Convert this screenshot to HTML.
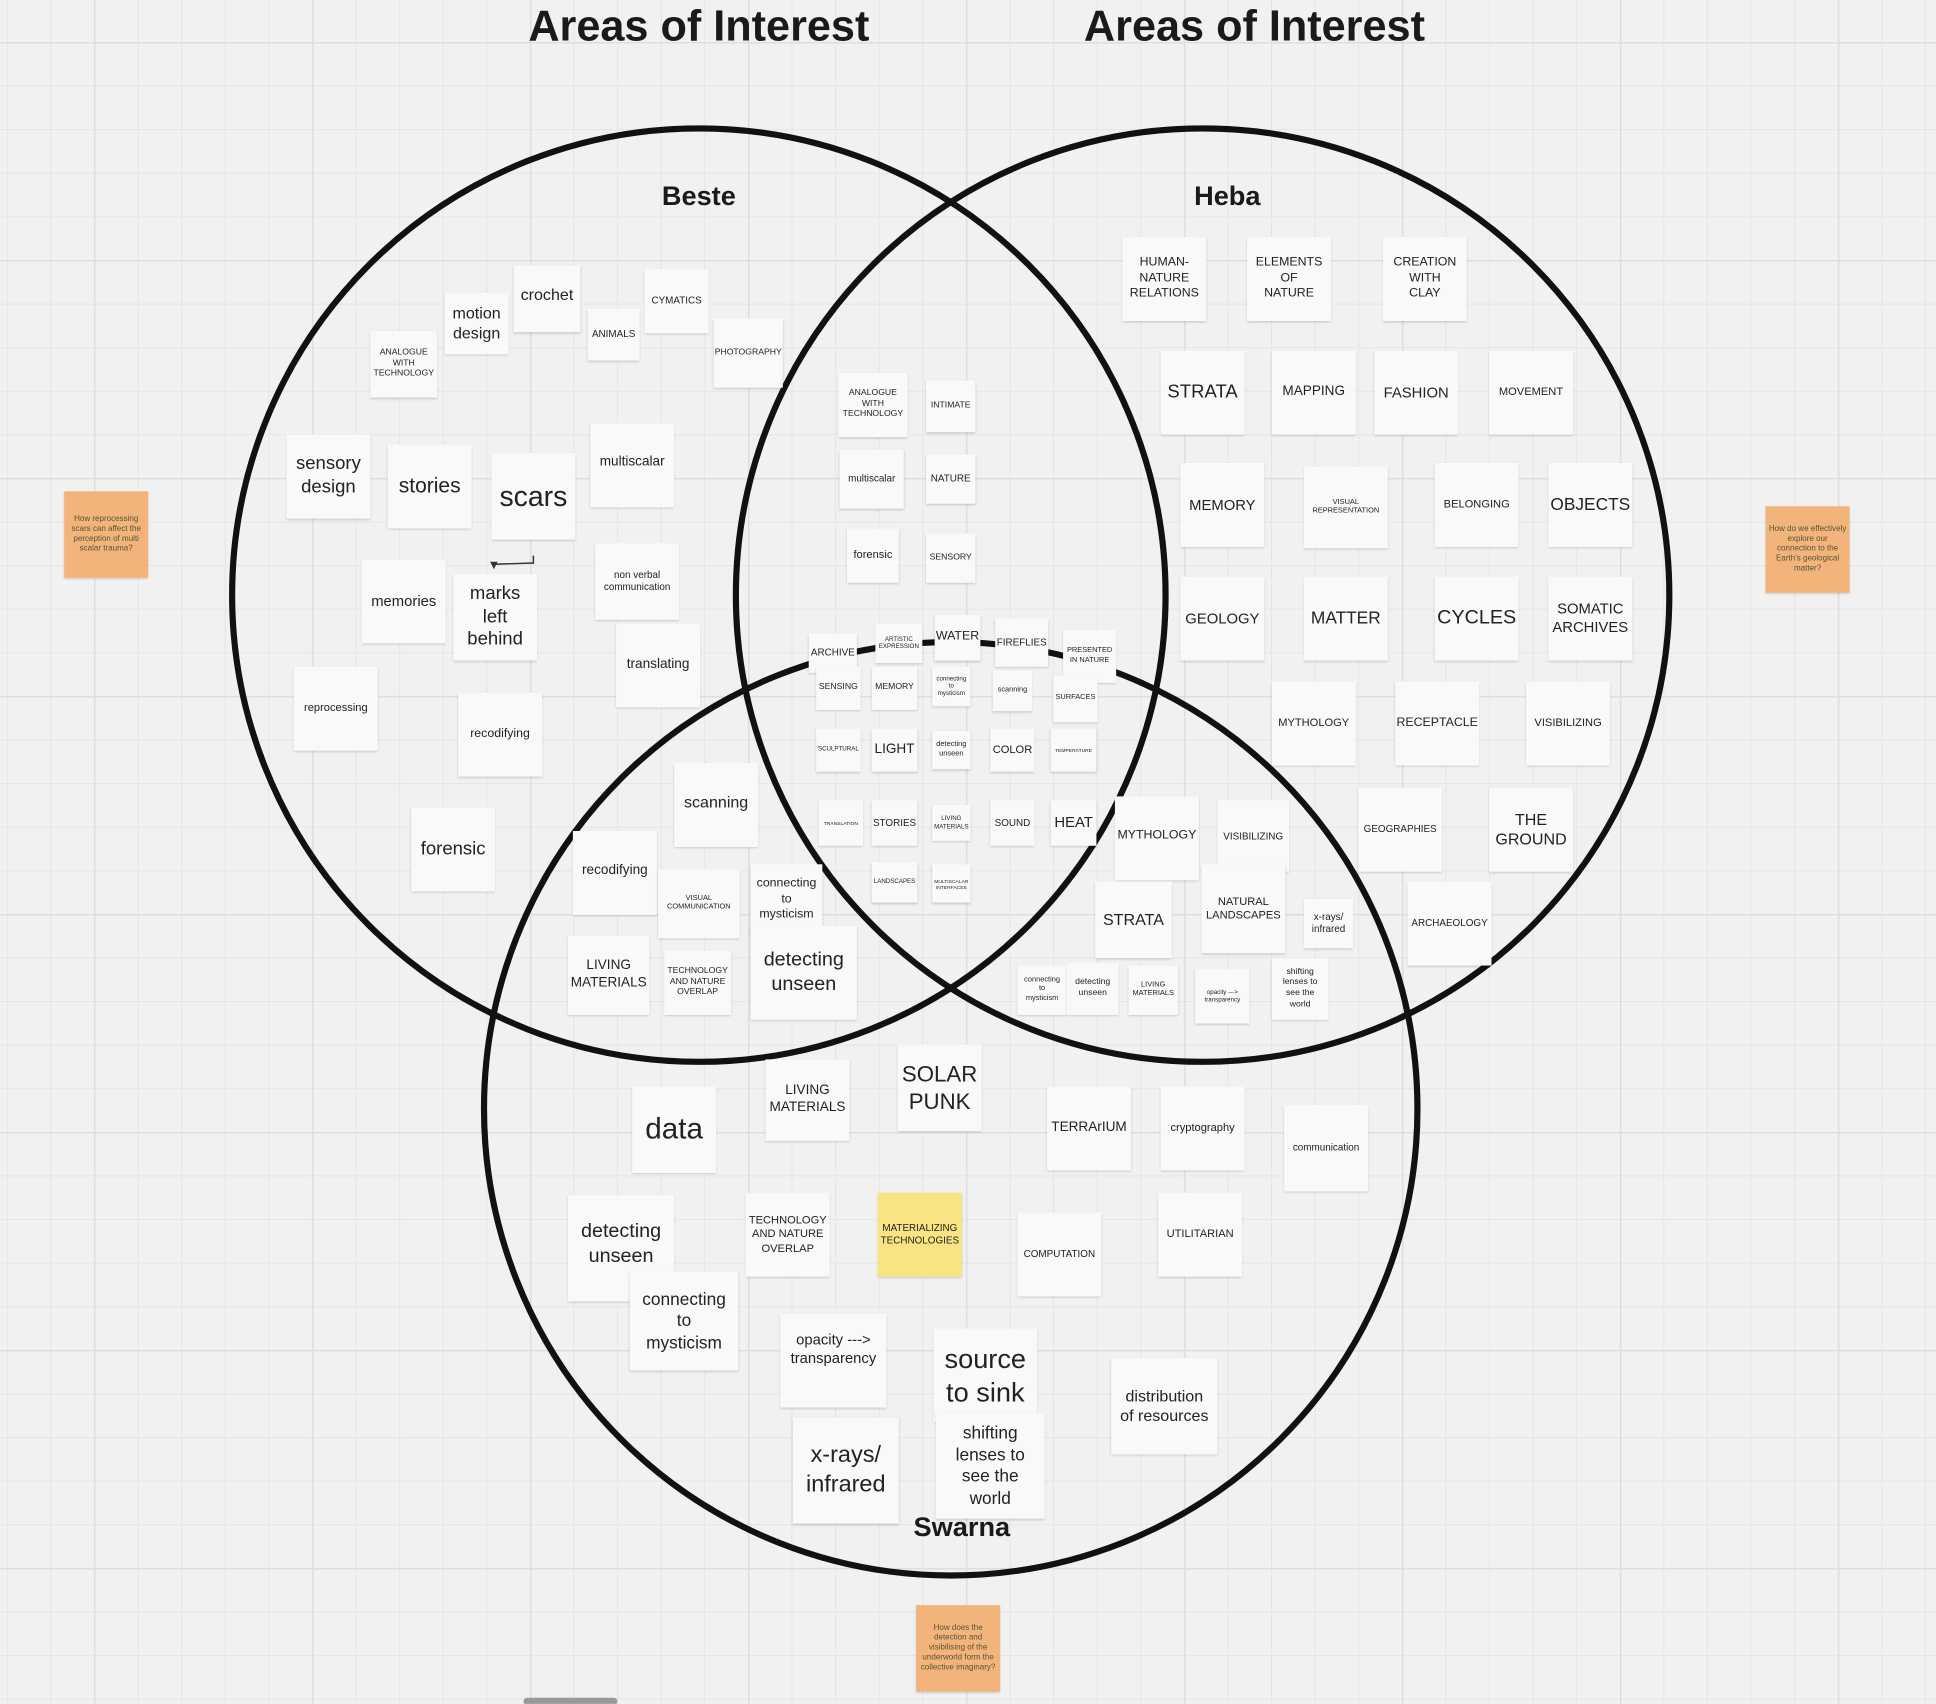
<!DOCTYPE html>
<html><head><meta charset="utf-8"><style>
html,body{margin:0;padding:0;width:1936px;height:1704px;overflow:hidden;background:#f1f1f1;}
#grid{position:absolute;left:0;top:0;width:1936px;height:1704px;
background-image:
linear-gradient(to right,#dedede 1.5px,transparent 1.5px),
linear-gradient(to bottom,#dedede 1.5px,transparent 1.5px),
linear-gradient(to right,#e5e5e5 1px,transparent 1px),
linear-gradient(to bottom,#e5e5e5 1px,transparent 1px);
background-size:218px 218px,218px 218px,43.6px 43.6px,43.6px 43.6px;
background-position:94px 42px,94px 42px,6.8px -1.6px,6.8px -1.6px;}
#c{position:absolute;left:0;top:0;width:1568px;height:1380px;transform:scale(1.2347);transform-origin:0 0;font-family:"Liberation Sans",sans-serif;}
.n{position:absolute;background:#f9f9f9;box-shadow:0 1px 2px rgba(0,0,0,.18);display:flex;align-items:center;justify-content:center;text-align:center;color:#222;line-height:1.25;box-sizing:border-box;padding:2px;}
.o{background:#f3b47c;color:#553;}
.y{background:#f8e483;}
.t{position:absolute;font-weight:bold;color:#1a1a1a;transform:translateX(-50%);white-space:nowrap;}
</style></head><body>
<div id="grid"></div>
<div id="c">
<div class="t" style="left:566px;top:2px;font-size:35px">Areas of Interest</div>
<div class="t" style="left:1016px;top:2px;font-size:35px">Areas of Interest</div>
<svg width="1568" height="1380" style="position:absolute;left:0;top:0">
<circle cx="566" cy="482" r="378" fill="none" stroke="#111" stroke-width="5"/>
<circle cx="974" cy="482" r="378" fill="none" stroke="#111" stroke-width="5"/>
<circle cx="770" cy="898" r="378" fill="none" stroke="#111" stroke-width="5"/>
<path d="M432 450 L432 456 L400 457" fill="none" stroke="#333" stroke-width="1.2"/>
<path d="M397 455 L403 455 L400 461 Z" fill="#333"/>
<rect x="424" y="1375" width="76" height="6" rx="3" fill="#999"/>
</svg>
<div class="t" style="left:566px;top:146px;font-size:22px">Beste</div>
<div class="t" style="left:994px;top:146px;font-size:22px">Heba</div>
<div class="t" style="left:779px;top:1224px;font-size:22px">Swarna</div>

<!-- Beste -->
<div class="n" style="left:360px;top:237px;width:52px;height:50px;font-size:13px">motion design</div>
<div class="n" style="left:416px;top:215px;width:54px;height:54px;font-size:13px;align-items:flex-start;padding-top:16px">crochet</div>
<div class="n" style="left:476px;top:250px;width:42px;height:42px;font-size:8px">ANIMALS</div>
<div class="n" style="left:522px;top:218px;width:52px;height:52px;font-size:8px">CYMATICS</div>
<div class="n" style="left:578px;top:258px;width:56px;height:56px;font-size:7px">PHOTOGRAPHY</div>
<div class="n" style="left:300px;top:268px;width:54px;height:54px;font-size:7px">ANALOGUE WITH TECHNOLOGY</div>
<div class="n" style="left:232px;top:352px;width:68px;height:68px;font-size:15px">sensory design</div>
<div class="n" style="left:314px;top:360px;width:68px;height:68px;font-size:17px">stories</div>
<div class="n" style="left:398px;top:367px;width:68px;height:70px;font-size:23px">scars</div>
<div class="n" style="left:478px;top:343px;width:68px;height:68px;font-size:11px;align-items:flex-start;padding-top:25px">multiscalar</div>
<div class="n" style="left:293px;top:453px;width:68px;height:68px;font-size:12px">memories</div>
<div class="n" style="left:367px;top:465px;width:68px;height:70px;font-size:15px">marks left behind</div>
<div class="n" style="left:482px;top:440px;width:68px;height:62px;font-size:8px">non verbal communication</div>
<div class="n" style="left:499px;top:505px;width:68px;height:68px;font-size:11px">translating</div>
<div class="n" style="left:238px;top:540px;width:68px;height:68px;font-size:9px">reprocessing</div>
<div class="n" style="left:371px;top:561px;width:68px;height:68px;font-size:10px">recodifying</div>
<div class="n" style="left:333px;top:654px;width:68px;height:68px;font-size:15px">forensic</div>

<!-- Beste ∩ Heba -->
<div class="n" style="left:679px;top:302px;width:56px;height:52px;font-size:7px">ANALOGUE WITH TECHNOLOGY</div>
<div class="n" style="left:750px;top:308px;width:40px;height:42px;font-size:7px">INTIMATE</div>
<div class="n" style="left:680px;top:364px;width:52px;height:48px;font-size:8px">multiscalar</div>
<div class="n" style="left:750px;top:368px;width:40px;height:40px;font-size:8px">NATURE</div>
<div class="n" style="left:686px;top:428px;width:42px;height:44px;font-size:9px">forensic</div>
<div class="n" style="left:750px;top:432px;width:40px;height:40px;font-size:7px">SENSORY</div>

<!-- Center -->
<div class="n" style="left:655px;top:513px;width:39px;height:32px;font-size:8px">ARCHIVE</div>
<div class="n" style="left:709px;top:505px;width:38px;height:32px;font-size:5px">ARTISTIC EXPRESSION</div>
<div class="n" style="left:757px;top:498px;width:37px;height:37px;font-size:10px">WATER</div>
<div class="n" style="left:806px;top:501px;width:43px;height:39px;font-size:8px">FIREFLIES</div>
<div class="n" style="left:861px;top:510px;width:43px;height:43px;font-size:6px">PRESENTED IN NATURE</div>
<div class="n" style="left:661px;top:540px;width:36px;height:35px;font-size:7px">SENSING</div>
<div class="n" style="left:706px;top:540px;width:37px;height:35px;font-size:7px">MEMORY</div>
<div class="n" style="left:755px;top:540px;width:31px;height:32px;font-size:5px">connecting to mysticism</div>
<div class="n" style="left:804px;top:543px;width:32px;height:33px;font-size:6px">scanning</div>
<div class="n" style="left:853px;top:547px;width:36px;height:38px;font-size:6px">SURFACES</div>
<div class="n" style="left:661px;top:590px;width:36px;height:35px;font-size:5px">SCULPTURAL</div>
<div class="n" style="left:706px;top:590px;width:37px;height:35px;font-size:11px">LIGHT</div>
<div class="n" style="left:755px;top:592px;width:31px;height:31px;font-size:6px">detecting unseen</div>
<div class="n" style="left:802px;top:590px;width:36px;height:35px;font-size:9px">COLOR</div>
<div class="n" style="left:851px;top:590px;width:37px;height:35px;font-size:4px">TEMPERATURE</div>
<div class="n" style="left:663px;top:648px;width:36px;height:37px;font-size:4px">TRANSLATION</div>
<div class="n" style="left:706px;top:648px;width:37px;height:37px;font-size:8px">STORIES</div>
<div class="n" style="left:755px;top:652px;width:31px;height:29px;font-size:5px">LIVING MATERIALS</div>
<div class="n" style="left:802px;top:648px;width:36px;height:37px;font-size:8px">SOUND</div>
<div class="n" style="left:851px;top:648px;width:37px;height:37px;font-size:12px">HEAT</div>
<div class="n" style="left:706px;top:698px;width:37px;height:33px;font-size:5px">LANDSCAPES</div>
<div class="n" style="left:755px;top:700px;width:31px;height:31px;font-size:4px">MULTISCALAR INTERFACES</div>

<!-- Heba -->
<div class="n" style="left:909px;top:192px;width:68px;height:68px;font-size:10px">HUMAN-NATURE RELATIONS</div>
<div class="n" style="left:1010px;top:192px;width:68px;height:68px;font-size:10px;padding:0 14px">ELEMENTS OF NATURE</div>
<div class="n" style="left:1120px;top:192px;width:68px;height:68px;font-size:10px;padding:0 14px">CREATION WITH CLAY</div>
<div class="n" style="left:940px;top:284px;width:68px;height:68px;font-size:15px">STRATA</div>
<div class="n" style="left:1030px;top:284px;width:68px;height:68px;font-size:11px">MAPPING</div>
<div class="n" style="left:1113px;top:284px;width:68px;height:68px;font-size:12px">FASHION</div>
<div class="n" style="left:1206px;top:284px;width:68px;height:68px;font-size:9px">MOVEMENT</div>
<div class="n" style="left:956px;top:375px;width:68px;height:68px;font-size:12px">MEMORY</div>
<div class="n" style="left:1056px;top:378px;width:68px;height:66px;font-size:6px">VISUAL REPRESENTATION</div>
<div class="n" style="left:1162px;top:375px;width:68px;height:68px;font-size:9px">BELONGING</div>
<div class="n" style="left:1254px;top:375px;width:68px;height:68px;font-size:14px">OBJECTS</div>
<div class="n" style="left:956px;top:467px;width:68px;height:68px;font-size:12px">GEOLOGY</div>
<div class="n" style="left:1056px;top:467px;width:68px;height:68px;font-size:14px">MATTER</div>
<div class="n" style="left:1162px;top:467px;width:68px;height:68px;font-size:16px">CYCLES</div>
<div class="n" style="left:1254px;top:467px;width:68px;height:68px;font-size:12px">SOMATIC ARCHIVES</div>
<div class="n" style="left:1030px;top:552px;width:68px;height:68px;font-size:9px">MYTHOLOGY</div>
<div class="n" style="left:1130px;top:552px;width:68px;height:68px;font-size:10px">RECEPTACLE</div>
<div class="n" style="left:1236px;top:552px;width:68px;height:68px;font-size:9px">VISIBILIZING</div>
<div class="n" style="left:1100px;top:638px;width:68px;height:68px;font-size:8px">GEOGRAPHIES</div>
<div class="n" style="left:1206px;top:638px;width:68px;height:68px;font-size:13px">THE GROUND</div>
<div class="n" style="left:1140px;top:714px;width:68px;height:68px;font-size:8px">ARCHAEOLOGY</div>

<!-- Heba ∩ Swarna -->
<div class="n" style="left:903px;top:645px;width:68px;height:68px;font-size:10px;align-items:flex-start;padding-top:26px">MYTHOLOGY</div>
<div class="n" style="left:986px;top:648px;width:58px;height:58px;font-size:8px;align-items:flex-start;padding-top:25px">VISIBILIZING</div>
<div class="n" style="left:887px;top:714px;width:62px;height:62px;font-size:13px">STRATA</div>
<div class="n" style="left:973px;top:700px;width:68px;height:72px;font-size:9px">NATURAL LANDSCAPES</div>
<div class="n" style="left:1056px;top:728px;width:40px;height:40px;font-size:8px">x-rays/ infrared</div>
<div class="n" style="left:824px;top:782px;width:40px;height:40px;font-size:6px;padding:0 6px">connecting to mysticism</div>
<div class="n" style="left:864px;top:780px;width:42px;height:42px;font-size:7px">detecting unseen</div>
<div class="n" style="left:914px;top:782px;width:40px;height:40px;font-size:6px">LIVING MATERIALS</div>
<div class="n" style="left:968px;top:785px;width:44px;height:44px;font-size:5px">opacity ---&gt; transparency</div>
<div class="n" style="left:1030px;top:776px;width:46px;height:50px;font-size:7px;padding:0 6px">shifting lenses to see the world</div>

<!-- Beste ∩ Swarna -->
<div class="n" style="left:546px;top:618px;width:68px;height:68px;font-size:13px;align-items:flex-start;padding-top:24px">scanning</div>
<div class="n" style="left:464px;top:673px;width:68px;height:68px;font-size:11px;align-items:flex-start;padding-top:26px">recodifying</div>
<div class="n" style="left:533px;top:704px;width:66px;height:56px;font-size:6px">VISUAL COMMUNICATION</div>
<div class="n" style="left:608px;top:700px;width:58px;height:58px;font-size:10px">connecting to mysticism</div>
<div class="n" style="left:460px;top:758px;width:66px;height:64px;font-size:11px">LIVING MATERIALS</div>
<div class="n" style="left:538px;top:770px;width:54px;height:52px;font-size:7px">TECHNOLOGY AND NATURE OVERLAP</div>
<div class="n" style="left:608px;top:750px;width:86px;height:76px;font-size:16px">detecting unseen</div>

<!-- Swarna -->
<div class="n" style="left:620px;top:858px;width:68px;height:66px;font-size:11px">LIVING MATERIALS</div>
<div class="n" style="left:727px;top:846px;width:68px;height:70px;font-size:18px">SOLAR PUNK</div>
<div class="n" style="left:512px;top:880px;width:68px;height:70px;font-size:24px">data</div>
<div class="n" style="left:848px;top:880px;width:68px;height:68px;font-size:11px">TERRArIUM</div>
<div class="n" style="left:940px;top:880px;width:68px;height:68px;font-size:9px">cryptography</div>
<div class="n" style="left:1040px;top:895px;width:68px;height:70px;font-size:8px">communication</div>
<div class="n" style="left:460px;top:968px;width:86px;height:86px;font-size:16px;align-items:flex-start;padding-top:20px;overflow:hidden">detecting unseen</div>
<div class="n" style="left:604px;top:966px;width:68px;height:68px;font-size:9px">TECHNOLOGY AND NATURE OVERLAP</div>
<div class="n y" style="left:711px;top:966px;width:68px;height:68px;font-size:8px">MATERIALIZING TECHNOLOGIES</div>
<div class="n" style="left:824px;top:982px;width:68px;height:68px;font-size:8px">COMPUTATION</div>
<div class="n" style="left:938px;top:966px;width:68px;height:68px;font-size:9px">UTILITARIAN</div>
<div class="n" style="left:510px;top:1030px;width:88px;height:80px;font-size:14px;padding:0 10px">connecting to mysticism</div>
<div class="n" style="left:632px;top:1064px;width:86px;height:76px;font-size:12px;align-items:flex-start;padding-top:14px">opacity ---&gt; transparency</div>
<div class="n" style="left:756px;top:1076px;width:84px;height:76px;font-size:22px">source to sink</div>
<div class="n" style="left:900px;top:1100px;width:86px;height:78px;font-size:13px;padding:0 6px">distribution of resources</div>
<div class="n" style="left:642px;top:1148px;width:86px;height:86px;font-size:19px">x-rays/ infrared</div>
<div class="n" style="left:758px;top:1144px;width:88px;height:86px;font-size:14px;padding:0 12px">shifting lenses to see the world</div>

<!-- orange -->
<div class="n o" style="left:52px;top:398px;width:68px;height:70px;font-size:6.5px">How reprocessing scars can affect the perception of multi scalar trauma?</div>
<div class="n o" style="left:1430px;top:410px;width:68px;height:70px;font-size:6.5px">How do we effectively explore our connection to the Earth's geological matter?</div>
<div class="n o" style="left:742px;top:1300px;width:68px;height:70px;font-size:6.5px">How does the detection and visibilising of the underworld form the collective imaginary?</div>
</div>
</body></html>
